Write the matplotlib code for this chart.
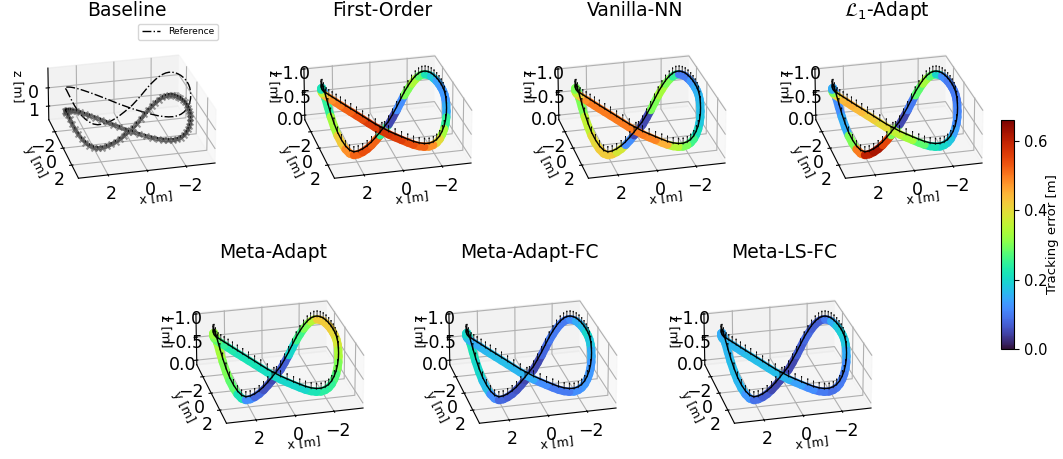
import numpy as np
import matplotlib
matplotlib.use("Agg")
import matplotlib.pyplot as plt
from mpl_toolkits.mplot3d.art3d import Line3DCollection

# reference figure-8, one sample every 5 degrees along the path
ref_x = [3.20, 3.19, 3.15, 3.09, 3.01, 2.90, 2.77, 2.62, 2.45, 2.26, 2.06, 1.84, 1.60, 1.35, 1.09, 0.83, 0.56, 0.28,
         0.00, -0.28, -0.56, -0.83, -1.09, -1.35, -1.60, -1.84, -2.06, -2.26, -2.45, -2.62, -2.77, -2.90, -3.01, -3.09, -3.15, -3.19,
         -3.20, -3.19, -3.15, -3.09, -3.01, -2.90, -2.77, -2.62, -2.45, -2.26, -2.06, -1.84, -1.60, -1.35, -1.09, -0.83, -0.56, -0.28,
         0.00, 0.28, 0.56, 0.83, 1.09, 1.35, 1.60, 1.84, 2.06, 2.26, 2.45, 2.62, 2.77, 2.90, 3.01, 3.09, 3.15, 3.19]
ref_y = [-0.50, -0.23, 0.04, 0.32, 0.58, 0.83, 1.05, 1.24, 1.39, 1.50, 1.57, 1.58, 1.55, 1.47, 1.34, 1.18, 0.98, 0.75,
         0.50, 0.23, -0.04, -0.32, -0.58, -0.83, -1.05, -1.24, -1.39, -1.50, -1.57, -1.58, -1.55, -1.47, -1.34, -1.18, -0.98, -0.75,
         -0.50, -0.23, 0.04, 0.32, 0.58, 0.83, 1.05, 1.24, 1.39, 1.50, 1.57, 1.58, 1.55, 1.47, 1.34, 1.18, 0.98, 0.75,
         0.50, 0.23, -0.04, -0.32, -0.58, -0.83, -1.05, -1.24, -1.39, -1.50, -1.57, -1.58, -1.55, -1.47, -1.34, -1.18, -0.98, -0.75]
ref_z = [-1.15, -1.12, -1.02, -0.88, -0.72, -0.55, -0.39, -0.26, -0.15, -0.07, -0.04, -0.05, -0.08, -0.12, -0.17, -0.23, -0.29, -0.35,
         -0.41, -0.50, -0.60, -0.70, -0.80, -0.88, -0.95, -1.00, -1.03, -1.04, -1.03, -1.01, -0.98, -0.94, -0.90, -0.86, -0.82, -0.78,
         -0.74, -0.68, -0.61, -0.53, -0.45, -0.37, -0.29, -0.22, -0.15, -0.10, -0.07, -0.05, -0.05, -0.06, -0.08, -0.11, -0.14, -0.17,
         -0.20, -0.24, -0.28, -0.33, -0.38, -0.43, -0.48, -0.53, -0.58, -0.63, -0.68, -0.73, -0.78, -0.83, -0.89, -0.96, -1.03, -1.10]

# tracking error, one value every 10 degrees along the path
err_first_order = [0.15, 0.25, 0.33, 0.42, 0.48, 0.52, 0.54, 0.52, 0.25, 0.05, 0.12, 0.30, 0.34, 0.28, 0.22, 0.18, 0.14, 0.13,
                   0.13, 0.15, 0.25, 0.33, 0.40, 0.48, 0.52, 0.54, 0.56, 0.57, 0.56, 0.54, 0.52, 0.50, 0.48, 0.44, 0.36, 0.22]
err_vanilla = [0.28, 0.30, 0.36, 0.40, 0.42, 0.42, 0.38, 0.12, 0.05, 0.05, 0.30, 0.33, 0.30, 0.25, 0.10, 0.10, 0.13, 0.15,
               0.16, 0.17, 0.18, 0.21, 0.26, 0.30, 0.35, 0.45, 0.49, 0.50, 0.50, 0.50, 0.50, 0.50, 0.48, 0.42, 0.36, 0.30]
err_l1 = [0.12, 0.12, 0.15, 0.30, 0.50, 0.60, 0.62, 0.55, 0.30, 0.05, 0.10, 0.28, 0.33, 0.28, 0.20, 0.12, 0.10, 0.10,
          0.10, 0.11, 0.12, 0.14, 0.18, 0.20, 0.22, 0.28, 0.33, 0.36, 0.40, 0.42, 0.44, 0.45, 0.44, 0.40, 0.30, 0.15]
err_meta_adapt = [0.33, 0.33, 0.30, 0.28, 0.22, 0.12, 0.08, 0.06, 0.05, 0.07, 0.20, 0.26, 0.30, 0.35, 0.42, 0.42, 0.42, 0.40,
                  0.38, 0.34, 0.30, 0.27, 0.25, 0.24, 0.22, 0.20, 0.20, 0.20, 0.21, 0.22, 0.22, 0.23, 0.25, 0.28, 0.30, 0.32]
err_meta_fc = [0.22, 0.22, 0.20, 0.17, 0.12, 0.08, 0.07, 0.06, 0.05, 0.05, 0.08, 0.10, 0.10, 0.10, 0.12, 0.15, 0.17, 0.20,
               0.18, 0.15, 0.13, 0.13, 0.13, 0.12, 0.10, 0.10, 0.12, 0.15, 0.16, 0.17, 0.17, 0.16, 0.15, 0.15, 0.17, 0.20]
err_meta_ls = [0.15, 0.16, 0.17, 0.16, 0.13, 0.09, 0.07, 0.05, 0.05, 0.05, 0.07, 0.08, 0.07, 0.07, 0.10, 0.15, 0.18, 0.19,
               0.18, 0.15, 0.12, 0.10, 0.10, 0.09, 0.10, 0.12, 0.14, 0.16, 0.17, 0.17, 0.17, 0.16, 0.16, 0.16, 0.16, 0.15]

titles = ['Baseline', 'First-Order', 'Vanilla-NN', r'$\mathcal{L}_1$-Adapt', 'Meta-Adapt', 'Meta-Adapt-FC', 'Meta-LS-FC']
errors = [None, err_first_order, err_vanilla, err_l1, err_meta_adapt, err_meta_fc, err_meta_ls]
xy_ticks = [-2, 0, 2]
z_ticks = [-1.0, -0.5, 0.0]
baseline_z_ticks = [0, 1]
colorbar_ticks = [0.0, 0.2, 0.4, 0.6]
baseline_drop = 1.25
band_drop = 0.07
arrow_len = -0.15

# panel centre in pixels, title centre in pixels
centers = [(127, 118), (383, 118), (637, 118), (894, 118), (275, 363), (528, 363), (783, 363)]
title_x = [127, 382, 635, 887, 273, 529, 784]
title_y = [10, 10, 10, 10, 252, 252, 252]

W, H = 1063, 459
fig = plt.figure(figsize=(W / 100, H / 100), dpi=100)
norm = plt.Normalize(0.0, 0.66)
cmap = plt.get_cmap('turbo')
rx, ry, rz = np.array(ref_x), np.array(ref_y), np.array(ref_z)
size = 235

for i, title in enumerate(titles):
    cx, cy = centers[i]
    ax = fig.add_axes([(cx - size / 2) / W, 1 - (cy + size / 2) / H, size / W, size / H],
                      projection='3d', computed_zorder=False)
    ax.patch.set_alpha(0)
    ax.set_proj_type('persp', focal_length=1.7)
    ax.view_init(elev=25, azim=76)
    ax.set_box_aspect((1, 1, 0.42), zoom=0.84)
    ax.set_xlim(-3.5, 3.5)
    ax.set_ylim(-3.5, 3.5)
    ax.set_xticks(xy_ticks)
    ax.set_yticks(xy_ticks)
    ax.tick_params(labelsize=12.5, pad=0)
    ax.set_xlabel('x [m]', fontsize=9, labelpad=0)
    ax.set_ylabel('y [m]', fontsize=9, labelpad=-3)
    ax.set_zlabel('z [m]', fontsize=9, labelpad=-4)

    if errors[i] is None:
        ax.set_zlim(1.75, -1.07)
        ax.set_zticks(baseline_z_ticks)
        ref_line, = ax.plot(np.append(rx, rx[0]), np.append(ry, ry[0]), np.append(rz, rz[0]),
                            color='k', ls='-.', lw=1.0, zorder=3, label='Reference')
        ax.scatter(rx, ry, rz + baseline_drop, color='0.35', s=18, marker='x', alpha=0.6, depthshade=False, zorder=4)
        ax.plot(np.append(rx, rx[0]), np.append(ry, ry[0]), np.append(rz, rz[0]) + baseline_drop,
                color='0.25', lw=3.0, alpha=0.65, zorder=4)
        ax.quiver(rx, ry, rz + baseline_drop, 0, 0, -0.1, color='k', lw=0.5, arrow_length_ratio=0.2, zorder=5)
        fig.legend(handles=[ref_line], loc='center', bbox_to_anchor=(178 / W, 1 - 32 / H), fontsize=6.6)
    else:
        ax.set_zlim(0.1, -1.02)
        ax.set_zticks(z_ticks)
        err = np.repeat(errors[i], 2)
        az = rz + band_drop
        pts = np.column_stack([rx, ry, az])
        segs = np.stack([pts, np.roll(pts, -1, axis=0)], axis=1)
        band = Line3DCollection(segs, colors=cmap(norm(err)), linewidths=6.0, capstyle='round', zorder=2)
        ax.add_collection3d(band)
        ax.plot(np.append(rx, rx[0]), np.append(ry, ry[0]), np.append(rz, rz[0]), color='k', lw=1.0, zorder=3)
        ax.quiver(rx, ry, rz + 0.03, 0, 0, arrow_len, color='k', lw=0.6, arrow_length_ratio=0.2, alpha=0.85, zorder=4)

    fig.text(title_x[i] / W, 1 - title_y[i] / H, title, ha='center', va='center', fontsize=13.5)

cax = fig.add_axes([1001 / W, 1 - 349 / H, 13 / W, 229 / H])
sm = plt.cm.ScalarMappable(norm=norm, cmap=cmap)
cb = fig.colorbar(sm, cax=cax)
cb.set_ticks(colorbar_ticks)
cb.ax.tick_params(labelsize=10.5)
cb.set_label('Tracking error [m]', fontsize=9.5, labelpad=-1)

fig.savefig('out.png', dpi=100)
